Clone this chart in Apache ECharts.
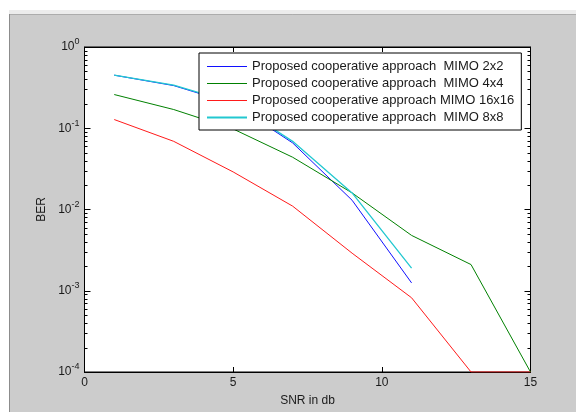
<!DOCTYPE html>
<html>
<head>
<meta charset="utf-8">
<script src="https://cdn.jsdelivr.net/npm/echarts@6/dist/echarts.min.js"></script>
<style>
html,body{margin:0;padding:0;background:#ffffff;}
#chart{width:576px;height:412px;}
</style>
</head>
<body>
<div id="chart"></div>
<script>
// ---- data ----
var snr = [1, 3, 5, 7, 9, 11, 13, 15];
var ber2x2 = [0.45, 0.335, 0.2, 0.066, 0.013, 0.00125];
var ber4x4 = [0.26, 0.17, 0.098, 0.044, 0.016, 0.0048, 0.0021, 0.0001];
var ber16x16 = [0.128, 0.069, 0.029, 0.011, 0.0029, 0.00082, 0.0001, 0.0001];
var ber8x8 = [0.45, 0.34, 0.205, 0.069, 0.016, 0.0019];
var seriesNames = [
  'Proposed cooperative approach  MIMO 2x2',
  'Proposed cooperative approach  MIMO 4x4',
  'Proposed cooperative approach MIMO 16x16',
  'Proposed cooperative approach  MIMO 8x8'
];
var xTicks = [0, 5, 10, 15];
var yMin = 0.0001, yMax = 1;
var xMin = 0, xMax = 15;

function pairs(xs, ys) {
  var out = [];
  for (var i = 0; i < ys.length; i++) out.push([xs[i], ys[i]]);
  return out;
}
// minor tick values 2..9 x 10^k on the log axis
var minorVals = [];
for (var k = -4; k < 0; k++) {
  for (var m = 2; m <= 9; m++) minorVals.push([xMin, m * Math.pow(10, k)]);
}

var txt = '#1a1a1a';
var chart = echarts.init(document.getElementById('chart'), null, {renderer: 'canvas'});
function lineSeries(name, data, color, width) {
  return {
    name: name, type: 'line', data: data, symbol: 'none',
    lineStyle: {color: color, width: width}, itemStyle: {color: color},
    animation: false, z: 3
  };
}
var option = {
  animation: false,
  backgroundColor: '#ffffff',
  textStyle: {fontFamily: 'Liberation Sans, Arial, sans-serif'},
  graphic: [
    {type: 'rect', shape: {x: 9, y: 14, width: 567, height: 398}, style: {fill: '#cccccc'}, z: -10},
    {type: 'line', shape: {x1: 9, y1: 14, x2: 576, y2: 14}, style: {stroke: '#8c8c8c', lineWidth: 1}, z: -9},
    {type: 'line', shape: {x1: 9.5, y1: 14, x2: 9.5, y2: 412}, style: {stroke: '#8c8c8c', lineWidth: 1}, z: -9},
    {type: 'rect', shape: {x: 9, y: 10, width: 567, height: 4}, style: {fill: '#ececec'}, z: -9}
  ],
  grid: {left: 84.5, right: 45.5, top: 47, bottom: 37.5, show: true, backgroundColor: '#ffffff', borderColor: '#000', borderWidth: 1},
  legend: {
    data: [
      {name: seriesNames[0], lineStyle: {width: 1.2}},
      {name: seriesNames[1], lineStyle: {width: 1.2}},
      {name: seriesNames[2], lineStyle: {width: 1.2}},
      {name: seriesNames[3], lineStyle: {width: 2}}
    ],
    orient: 'vertical',
    left: 199, top: 53,
    backgroundColor: '#ffffff',
    borderColor: '#000', borderWidth: 1,
    padding: [7, 7, 6, 7],
    itemWidth: 40, itemHeight: 14, itemGap: 4,
    itemStyle: {opacity: 0},
    textStyle: {fontSize: 13, color: txt, fontFamily: 'Liberation Sans, Arial, sans-serif'}
  },
  xAxis: [{
    type: 'value', min: xMin, max: xMax, interval: 5, position: 'bottom',
    name: 'SNR in db', nameLocation: 'middle', nameGap: 23,
    nameTextStyle: {fontSize: 12, color: txt},
    axisLine: {show: true, onZero: false, lineStyle: {color: '#000', width: 1}},
    axisTick: {show: true, inside: true, length: 5, lineStyle: {color: '#000'}},
    axisLabel: {fontSize: 12, color: txt, margin: 5},
    splitLine: {show: false}
  }, {
    type: 'value', min: xMin, max: xMax, interval: 5, position: 'top',
    axisLine: {show: true, onZero: false, lineStyle: {color: '#000', width: 1}},
    axisTick: {show: true, inside: true, length: 5, lineStyle: {color: '#000'}},
    axisLabel: {show: false},
    splitLine: {show: false}
  }],
  yAxis: [{
    type: 'log', logBase: 10, min: yMin, max: yMax, splitNumber: 4, position: 'left',
    name: 'BER', nameLocation: 'middle', nameGap: 31, nameRotate: 90,
    nameTextStyle: {fontSize: 12, color: txt},
    axisLine: {show: true, onZero: false, lineStyle: {color: '#000', width: 1}},
    axisTick: {show: true, inside: true, length: 6, lineStyle: {color: '#000'}},
    axisLabel: {
      margin: 5, color: txt,
      formatter: function (v) {
        var e = Math.round(Math.log10(v));
        return '{b|10}{s|' + e + '}';
      },
      rich: {
        b: {fontSize: 12, color: txt, fontFamily: 'Liberation Sans, Arial, sans-serif'},
        s: {fontSize: 9, color: txt, padding: [0, 0, 10, 0], fontFamily: 'Liberation Sans, Arial, sans-serif'}
      }
    },
    splitLine: {show: false}
  }, {
    type: 'log', logBase: 10, min: yMin, max: yMax, splitNumber: 4, position: 'right',
    axisLine: {show: true, onZero: false, lineStyle: {color: '#000', width: 1}},
    axisTick: {show: true, inside: true, length: 6, lineStyle: {color: '#000'}},
    axisLabel: {show: false},
    splitLine: {show: false}
  }],
  series: [
    lineSeries(seriesNames[0], pairs(snr, ber2x2), '#1010ff', 1),
    lineSeries(seriesNames[1], pairs(snr, ber4x4), '#008000', 1),
    lineSeries(seriesNames[2], pairs(snr, ber16x16), '#ff1a1a', 1),
    lineSeries(seriesNames[3], pairs(snr, ber8x8), '#22c8d0', 1.3),
    {
      type: 'custom', name: 'minorTicks', data: minorVals, silent: true, z: 4,
      clip: false,
      renderItem: function (params, api) {
        var v = api.value(1);
        var p0 = api.coord([xMin, v]);
        var p1 = api.coord([xMax, v]);
        var y = Math.round(p0[1]) + 0.5;
        return {
          type: 'group',
          children: [
            {type: 'line', shape: {x1: p0[0], y1: y, x2: p0[0] + 3, y2: y}, style: {stroke: '#000', lineWidth: 1}},
            {type: 'line', shape: {x1: p1[0] - 3, y1: y, x2: p1[0], y2: y}, style: {stroke: '#000', lineWidth: 1}}
          ]
        };
      }
    }
  ]
};
chart.setOption(option);
</script>
</body>
</html>
